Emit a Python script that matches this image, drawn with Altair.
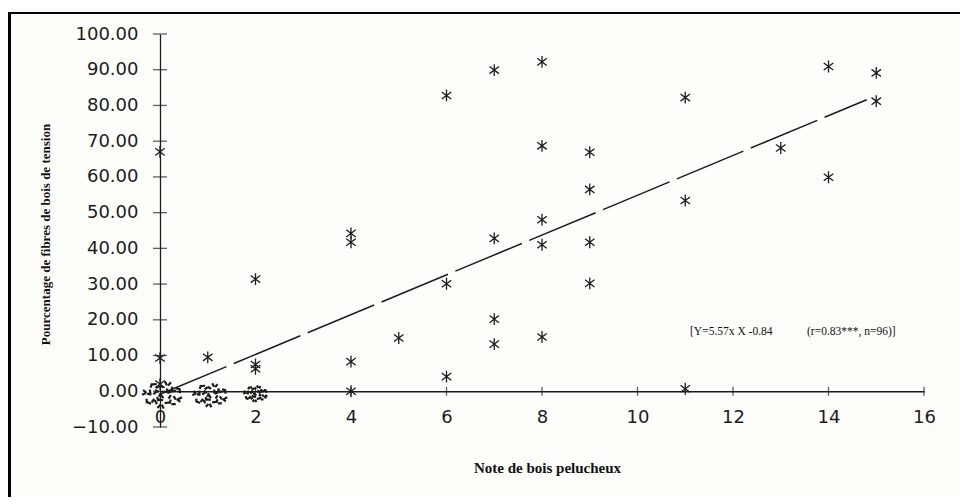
import math
import altair as alt
import pandas as pd

# ---------------- data ----------------
star_x = [0, 0, 0, 1, 2, 2, 2, 4, 4, 4, 4, 5, 6, 6, 6, 7, 7, 7, 7,
          8, 8, 8, 8, 8, 9, 9, 9, 9, 11, 11, 11, 13, 14, 14, 15, 15]
star_y = [67, 9.3, 2, 9.5, 31.4, 7.5, 6.3, 44.2, 41.7, 8.3, 0, 14.9, 82.8, 30.1, 4.1,
          89.9, 42.8, 20.2, 13.2, 92.2, 68.7, 48, 41, 15.2, 66.9, 56.5, 41.7, 30.2,
          82.2, 53.4, 0.7, 68.1, 90.9, 59.9, 89.1, 81.2]

# overlapping points drawn as blobs near zero
cluster_x = [0.05, 1.05, 2.0]
cluster_y = [-1.0, -1.1, -0.7]
cluster_n = [30, 23, 11]

# fitted line  Y = 5.57 X - 0.84
line_x = [0.0, 14.8]
line_y = [-0.84, 81.6]

y_ticks = [-10, 0, 10, 20, 30, 40, 50, 60, 70, 80, 90, 100]
x_ticks = [0, 2, 4, 6, 8, 10, 12, 14, 16]
x_cross_ticks = [2, 4, 6, 8, 10, 12, 14, 16]

note_text = ["[Y=5.57x X -0.84", "(r=0.83***, n=96)]"]
note_x = [11.1, 13.55]
note_y = [16.5, 16.5]

# ---------------- tables ----------------
stars = pd.DataFrame({"x": star_x, "y": star_y})
clusters = pd.DataFrame({"x": cluster_x, "y": cluster_y, "n": cluster_n})
fit = pd.DataFrame({"x": line_x, "y": line_y})
yt = pd.DataFrame({"x": [0] * len(y_ticks), "y": y_ticks})
xt = pd.DataFrame({"x": x_cross_ticks, "y": [0] * len(x_cross_ticks)})
notes = pd.DataFrame({"x": note_x, "y": note_y, "t": note_text})
one = pd.DataFrame({"k": [0]})

INK = "#1c1c1c"

# marker shapes
STAR = "M0,-1L0,1M-0.8,-0.6L0.8,0.6M-0.8,0.6L0.8,-0.6"


def blob_path(aspect=0.64):
    parts = []
    rings = [(0.92, 15), (0.66, 11), (0.4, 7), (0.12, 2)]
    k = 0
    for r, n in rings:
        for i in range(n):
            t = 2 * math.pi * (i + 0.5 * (k % 2)) / n + r
            cx, cy = r * math.cos(t), r * math.sin(t) * aspect
            ang = math.radians((k * 67) % 180)
            dx, dy = 0.11 * math.cos(ang), 0.11 * math.sin(ang)
            parts.append(f"M{cx-dx:.3f},{cy-dy:.3f}L{cx+dx:.3f},{cy+dy:.3f}")
            k += 1
    return "".join(parts)


BLOB = blob_path()

xscale = alt.Scale(domain=[0, 16], nice=False, zero=False)
yscale = alt.Scale(domain=[-10, 100], nice=False, zero=False)

x_axis = alt.Axis(
    values=x_ticks, format="d", offset=-35.73,
    domain=True, domainColor=INK, domainWidth=1.3,
    ticks=False, tickSize=0, grid=False,
    labelFont="DejaVu Sans", labelFontSize=18, labelColor=INK,
    labelPadding=17, labelFlush=False, labelOverlap=False,
    title="Note de bois pelucheux", titleFont="Liberation Serif",
    titleFontSize=15, titleFontWeight="bold", titleColor="#111111",
    titleX=387, titleY=76.6, titleAlign="center", titleBaseline="middle",
)
y_axis = alt.Axis(
    values=y_ticks, format=".2f",
    domain=True, domainColor=INK, domainWidth=1.3,
    ticks=False, tickSize=0, grid=False,
    labelFont="DejaVu Sans", labelFontSize=18, labelColor=INK,
    labelPadding=22, labelFlush=False, labelOverlap=False,
    title="Pourcentage de fibres de bois de tension", titleFont="Liberation Serif",
    titleFontSize=13, titleFontWeight="bold", titleColor="#111111",
    titleX=-115, titleY=200, titleAngle=270, titleAlign="center", titleBaseline="middle",
)

X = alt.X("x:Q", scale=xscale, axis=x_axis)
Y = alt.Y("y:Q", scale=yscale, axis=y_axis)

frame_top = alt.Chart(one).mark_rule(color="#000000", strokeWidth=2).encode(
    x=alt.value(-152), x2=alt.value(820), y=alt.value(-21))
frame_left = alt.Chart(one).mark_rule(color="#000000", strokeWidth=3).encode(
    x=alt.value(-150.5), y=alt.value(-22), y2=alt.value(470))

fit_line = alt.Chart(fit).mark_line(color=INK, strokeWidth=1.5, strokeDash=[72, 8]).encode(x=X, y=Y)

ytick_layer = alt.Chart(yt).mark_tick(orient="horizontal", color=INK, size=14, thickness=1.3).encode(x=X, y=Y)
xtick_layer = alt.Chart(xt).mark_tick(orient="vertical", color=INK, size=9, thickness=1.3).encode(x=X, y=Y)

blobs = alt.Chart(clusters).mark_point(shape=BLOB, filled=False, color=INK, strokeWidth=2.2, opacity=1).encode(
    x=X, y=Y,
    size=alt.Size("n:Q", scale=alt.Scale(domain=[0, 30], range=[0, 1600]), legend=None),
)

star_layer = alt.Chart(stars).mark_point(shape=STAR, filled=False, color=INK, strokeWidth=1.3,
                                         size=140, opacity=1).encode(x=X, y=Y)

note_layer = alt.Chart(notes).mark_text(align="left", baseline="middle", font="Liberation Serif",
                                        fontSize=11.5, color="#111111").encode(x=X, y=Y, text="t:N")

chart = alt.layer(
    fit_line, frame_top, frame_left, ytick_layer, xtick_layer, blobs, star_layer, note_layer
).properties(
    width=764, height=393,
    autosize=alt.AutoSizeParams(type="none"),
    padding={"left": 152, "top": 26, "right": 36, "bottom": 70},
    background="#fdfdfa",
).configure_view(stroke=None)

chart.save("out.html", embed_options={"renderer": "svg", "actions": False})
